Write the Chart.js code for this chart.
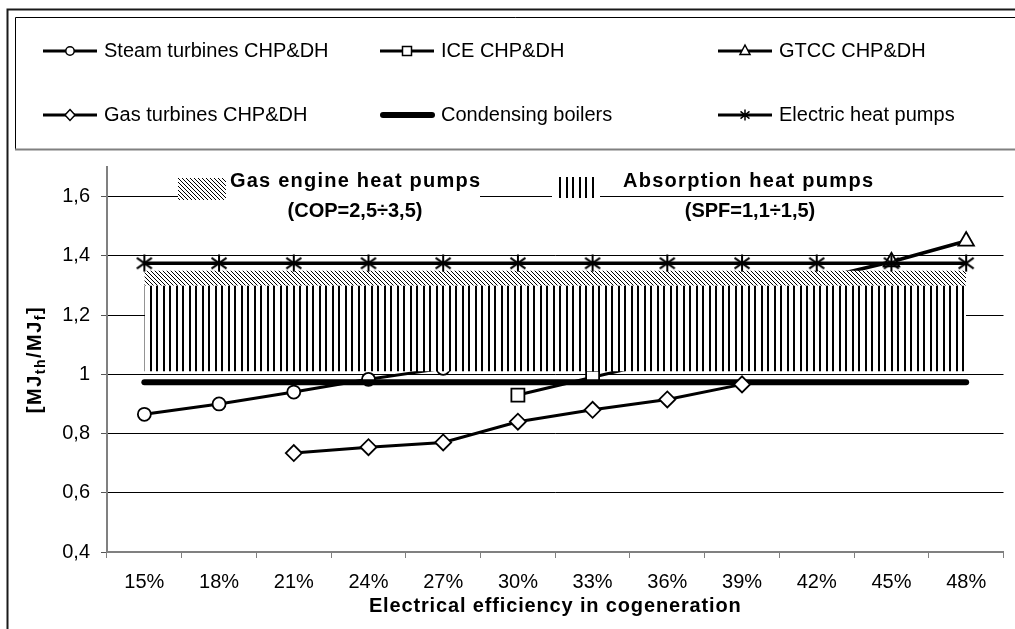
<!DOCTYPE html>
<html><head><meta charset="utf-8">
<script src="https://cdn.jsdelivr.net/npm/chart.js@4/dist/chart.umd.min.js"></script>
<style>html,body{margin:0;padding:0;background:#fff;overflow:hidden}#wrap{width:1015px;height:629px;position:relative}</style>
</head><body><div id="wrap"><canvas id="c" width="1015" height="629"></canvas></div>
<script>
// ---------------- data ----------------
const categories = ['15%','18%','21%','24%','27%','30%','33%','36%','39%','42%','45%','48%'];
const steamTurbines     = [0.865, 0.90, 0.94, 0.983, 1.02, null, null, null, null, null, null, null];
const iceCHP            = [null, null, null, null, null, 0.93, 0.99, 1.05, null, null, null, null];
const gtccCHP           = [null, null, null, null, null, null, null, null, null, 1.32, 1.38, 1.45];
const gasTurbines       = [null, null, 0.734, 0.754, 0.77, 0.84, 0.88, 0.915, 0.966, null, null, null];
const condensingBoilers = [0.973, 0.973, 0.973, 0.973, 0.973, 0.973, 0.973, 0.973, 0.973, 0.973, 0.973, 0.973];
const electricHeatPumps = [1.375, 1.375, 1.375, 1.375, 1.375, 1.375, 1.375, 1.375, 1.375, 1.375, 1.375, 1.375];
const absorptionLow     = [1.01, 1.01, 1.01, 1.01, 1.01, 1.01, 1.01, 1.01, 1.01, 1.01, 1.01, 1.01];
const absorptionHigh    = [1.30, 1.30, 1.30, 1.30, 1.30, 1.30, 1.30, 1.30, 1.30, 1.30, 1.30, 1.30];
const gasEngineHigh     = [1.35, 1.35, 1.35, 1.35, 1.35, 1.35, 1.35, 1.35, 1.35, 1.35, 1.35, 1.35];
const yTicks = [0.4, 0.6, 0.8, 1.0, 1.2, 1.4, 1.6];
const xTitle = 'Electrical efficiency in cogeneration';
const bandLabels = [['Gas engine heat pumps', '(COP=2,5÷3,5)'], ['Absorption heat pumps', '(SPF=1,1÷1,5)']];

// ---------------- helpers ----------------
const FONT = '"Liberation Sans", Arial, Helvetica, sans-serif';
const canvas = document.getElementById('c');
const ctx = canvas.getContext('2d');

function makeStar(size, lw) {
  const c = document.createElement('canvas'); c.width = size; c.height = size;
  const g = c.getContext('2d'); g.strokeStyle = '#000'; g.lineWidth = lw;
  const h = size / 2, m = 1.5;
  g.beginPath();
  g.moveTo(h, 0.5); g.lineTo(h, size - 0.5);
  g.moveTo(m, size * 0.2); g.lineTo(size - m, size * 0.8);
  g.moveTo(m, size * 0.8); g.lineTo(size - m, size * 0.2);
  g.stroke();
  return c;
}
const starPoint = makeStar(18, 2);
const starSmall = makeStar(12, 1.5);

function stripePattern() {
  const c = document.createElement('canvas'); c.width = 13; c.height = 4;
  const g = c.getContext('2d'); g.fillStyle = '#fff'; g.fillRect(0, 0, 13, 4);
  g.fillStyle = '#000'; g.fillRect(0, 0, 2, 4); g.fillRect(7, 0, 2, 4);
  return ctx.createPattern(c, 'repeat');
}
function hatchPattern() {
  const n = 4;
  const c = document.createElement('canvas'); c.width = n; c.height = n;
  const g = c.getContext('2d'); g.fillStyle = '#fff'; g.fillRect(0, 0, n, n);
  g.fillStyle = '#000';
  for (let i = 0; i < n; i++) g.fillRect(i, i, 1, 1);
  return ctx.createPattern(c, 'repeat');
}
const stripes = stripePattern();
const hatch = hatchPattern();

function fitText(c, text, x, y, width, align) {
  c.letterSpacing = '0px';
  const w = c.measureText(text).width;
  if (width && text.length > 1) {
    const ls = (width - w) / (text.length - 1);
    c.letterSpacing = ls.toFixed(2) + 'px';
  }
  c.textAlign = align || 'left';
  c.fillText(text, x, y);
  c.letterSpacing = '0px';
}

function legendMarker(c, style, x, y) {
  c.save();
  c.fillStyle = '#fff'; c.strokeStyle = '#000'; c.lineWidth = 1.5;
  c.beginPath();
  if (style === 'circle') { c.arc(x, y, 4.2, 0, Math.PI * 2); }
  else if (style === 'rect') { c.rect(x - 4.5, y - 4.5, 9, 9); }
  else if (style === 'rectRot') { c.moveTo(x, y - 5.5); c.lineTo(x + 5, y); c.lineTo(x, y + 5.5); c.lineTo(x - 5, y); c.closePath(); }
  else if (style === 'triangle') { c.moveTo(x, y - 6); c.lineTo(x + 5, y + 3.5); c.lineTo(x - 5, y + 3.5); c.closePath(); }
  if (style === 'star') { c.drawImage(starSmall, x - 6, y - 6); }
  else { c.fill(); c.stroke(); }
  c.restore();
}

const legendItems = [
  { ds: 0, col: 0, row: 0, marker: 'circle', lw: 3 },
  { ds: 1, col: 1, row: 0, marker: 'rect', lw: 3 },
  { ds: 2, col: 2, row: 0, marker: 'triangle', lw: 3 },
  { ds: 3, col: 0, row: 1, marker: 'rectRot', lw: 3 },
  { ds: 4, col: 1, row: 1, marker: null, lw: 6 },
  { ds: 5, col: 2, row: 1, marker: 'star', lw: 3 }
];

const decor = {
  id: 'decor',
  afterDraw(chart) {
    const c = chart.ctx;
    c.save();
    // outer frame
    c.strokeStyle = '#1a1a1a'; c.lineWidth = 2;
    c.beginPath(); c.moveTo(7.5, 629); c.lineTo(7.5, 9.5); c.lineTo(1016, 9.5); c.stroke();
    // legend box
    c.strokeStyle = '#000'; c.lineWidth = 1;
    c.beginPath(); c.moveTo(15.5, 149); c.lineTo(15.5, 17.5); c.lineTo(1016, 17.5); c.stroke();
    c.strokeStyle = '#808080'; c.lineWidth = 2;
    c.beginPath(); c.moveTo(15, 149.5); c.lineTo(1016, 149.5); c.stroke();

    // legend items
    const colX = [43, 380, 718], rowY = [51, 115];
    c.font = '20px ' + FONT; c.fillStyle = '#000'; c.textBaseline = 'alphabetic';
    legendItems.forEach(it => {
      const x0 = colX[it.col], y = rowY[it.row];
      c.strokeStyle = '#000'; c.lineWidth = it.lw; c.lineCap = it.marker ? 'butt' : 'round';
      c.beginPath();
      c.moveTo(x0 + (it.marker ? 0 : 3), y); c.lineTo(x0 + (it.marker ? 54 : 52), y); c.stroke();
      if (it.marker) legendMarker(c, it.marker, x0 + 27, y);
      c.textAlign = 'left';
      c.fillText(chart.data.datasets[it.ds].label, x0 + 61, y + 6);
    });

    // band labels
    c.fillStyle = '#fff'; c.fillRect(226, 172, 254, 26);
    c.fillRect(552, 174, 48, 26);
    c.fillStyle = hatch; c.fillRect(178, 178, 48, 22);
    c.fillStyle = stripes; c.fillRect(557, 177, 41, 21);
    c.fillStyle = '#000';
    c.font = 'bold 20px ' + FONT;
    fitText(c, bandLabels[0][0], 230, 187, 250, 'left');
    fitText(c, bandLabels[0][1], 355, 217, 0, 'center');
    fitText(c, bandLabels[1][0], 623, 187, 250, 'left');
    fitText(c, bandLabels[1][1], 750, 217, 0, 'center');

    // x title
    const ca = chart.chartArea;
    c.font = 'bold 20px ' + FONT;
    fitText(c, xTitle, (ca.left + ca.right) / 2, 612, 372, 'center');

    // y title with subscripts
    c.translate(41, (ca.top + ca.bottom) / 2);
    c.rotate(-Math.PI / 2);
    const parts = [['[MJ', 20, 0], ['th', 14, 4], ['/MJ', 20, 0], ['f', 14, 4], [']', 20, 0]];
    c.letterSpacing = '1.5px';
    let total = 0;
    parts.forEach(p => { c.font = 'bold ' + p[1] + 'px ' + FONT; p.push(c.measureText(p[0]).width); total += p[3]; });
    let x = -total / 2;
    c.textAlign = 'left';
    parts.forEach(p => { c.font = 'bold ' + p[1] + 'px ' + FONT; c.fillText(p[0], x, p[2]); x += p[3]; });
    c.restore();
  }
};

const markerCommon = { pointBackgroundColor: '#fff', pointBorderColor: '#000', pointBorderWidth: 1.8, borderColor: '#000', tension: 0, fill: false };

new Chart(ctx, {
  type: 'line',
  data: {
    labels: categories,
    datasets: [
      Object.assign({ label: 'Steam turbines CHP&DH', data: steamTurbines, borderWidth: 3, pointStyle: 'circle', pointRadius: 6.5, order: 9 }, markerCommon),
      Object.assign({ label: 'ICE CHP&DH', data: iceCHP, borderWidth: 3, pointStyle: 'rect', pointRadius: 9.2, order: 10 }, markerCommon),
      Object.assign({ label: 'GTCC CHP&DH', data: gtccCHP, borderWidth: 3.5, pointStyle: 'triangle', pointRadius: 9, order: 6 }, markerCommon),
      Object.assign({ label: 'Gas turbines CHP&DH', data: gasTurbines, borderWidth: 3, pointStyle: 'rectRot', pointRadius: 8, order: 7 }, markerCommon),
      { label: 'Condensing boilers', data: condensingBoilers, borderColor: '#000', borderWidth: 6, borderCapStyle: 'round', pointRadius: 0, tension: 0, fill: false, order: 8 },
      { label: 'Electric heat pumps', data: electricHeatPumps, borderColor: '#000', borderWidth: 3.5, pointStyle: starPoint, pointRadius: 8, tension: 0, fill: false, order: 1 },
      { label: 'band base', data: absorptionLow, borderWidth: 0, borderColor: 'rgba(0,0,0,0)', pointRadius: 0, fill: false, order: 5 },
      { label: 'Absorption heat pumps', data: absorptionHigh, borderWidth: 0, borderColor: 'rgba(0,0,0,0)', backgroundColor: stripes, pointRadius: 0, fill: '-1', order: 4 },
      { label: 'Gas engine heat pumps', data: gasEngineHigh, borderWidth: 0, borderColor: 'rgba(0,0,0,0)', backgroundColor: hatch, pointRadius: 0, fill: '-1', order: 3 }
    ]
  },
  options: {
    responsive: false, animation: false, devicePixelRatio: 1,
    layout: { padding: { left: 8, right: 2, top: 167, bottom: 0 } },
    plugins: { legend: { display: false }, tooltip: { enabled: false } },
    events: [],
    scales: {
      x: {
        offset: true,
        grid: { offset: true, drawOnChartArea: false, drawTicks: true, tickLength: 6, color: '#808080', lineWidth: 1 },
        border: { display: true, color: '#808080', width: 2 },
        ticks: { color: '#000', font: { family: FONT, size: 20 }, padding: 12, maxRotation: 0, autoSkip: false },
        afterFit: s => { s.height = 77; }
      },
      y: {
        min: 0.4, max: 1.7,
        afterBuildTicks: s => { s.ticks = yTicks.map(v => ({ value: v })); },
        ticks: { color: '#000', font: { family: FONT, size: 20 }, padding: 11,
                 callback: v => String(Math.round(v * 10) / 10).replace('.', ',') },
        grid: { color: '#000', lineWidth: 1, tickLength: 6, tickColor: '#555' },
        border: { display: true, color: '#808080', width: 2 },
        afterFit: s => { s.width = 99; }
      }
    }
  },
  plugins: [decor]
});
</script></body></html>
